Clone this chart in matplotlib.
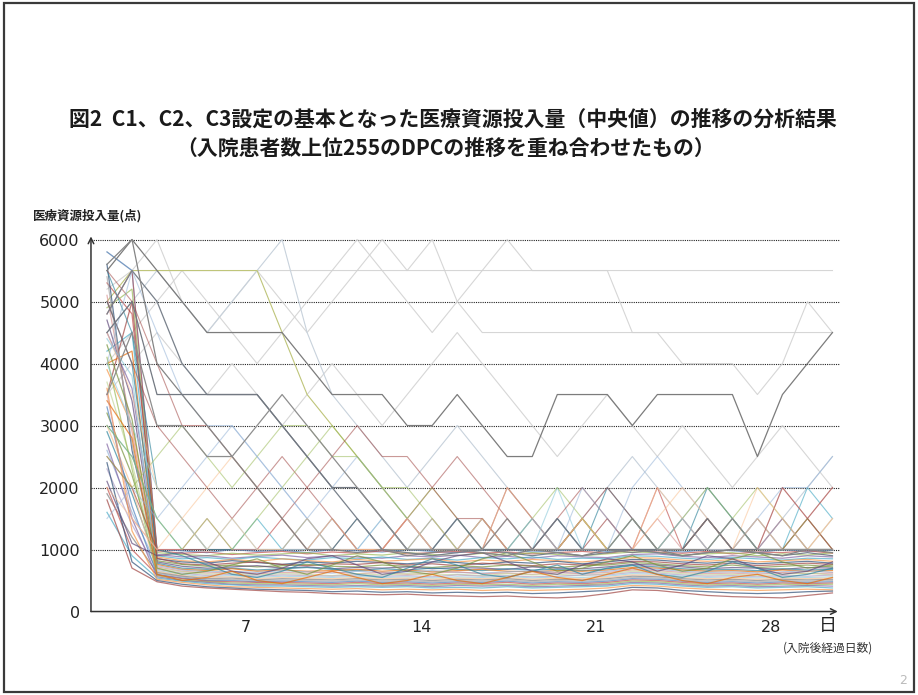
"""Fig.2 - overlay of median resource-use trajectories for the top 255 DPC."""
import matplotlib
matplotlib.use("Agg")
import matplotlib.pyplot as plt
from matplotlib.patches import Rectangle

CJK = ["Noto Sans CJK JP", "DejaVu Sans"]

# ── data (points per day, day 1..30) ───────────────────────────────────────
days = list(range(1, 31))
y_ticks = [0, 1000, 2000, 3000, 4000, 5000, 6000]
x_tick_days = [7, 14, 21, 28]

band_lines = [
    [5800, 5500, 1000, 980, 950, 1000, 970, 990, 950, 1000, 980, 960, 1000, 970, 950, 990, 1000, 960, 980, 1000, 970, 1000, 990, 960, 1000, 980, 950, 1000, 970, 990],
    [5300, 4800, 980, 940, 960, 920, 950, 970, 930, 960, 940, 980, 930, 950, 970, 940, 960, 930, 950, 970, 940, 990, 960, 940, 970, 930, 960, 950, 980, 940],
    [4900, 5200, 950, 920, 900, 940, 910, 930, 950, 900, 930, 910, 950, 920, 900, 940, 910, 950, 920, 900, 930, 960, 950, 910, 930, 950, 900, 930, 910, 950],
    [4500, 3600, 920, 880, 900, 860, 890, 910, 870, 900, 880, 860, 900, 880, 910, 870, 890, 860, 900, 880, 870, 920, 930, 890, 870, 900, 880, 860, 900, 880],
    [4200, 4500, 900, 850, 870, 840, 880, 850, 830, 870, 850, 880, 840, 860, 830, 870, 850, 880, 840, 860, 850, 900, 890, 860, 840, 870, 850, 830, 860, 850],
    [3900, 3000, 880, 820, 800, 840, 810, 850, 820, 800, 840, 810, 830, 850, 800, 830, 810, 840, 820, 800, 830, 870, 860, 830, 810, 840, 800, 820, 840, 810],
    [5600, 2600, 850, 800, 780, 820, 790, 760, 800, 780, 810, 790, 770, 800, 790, 760, 800, 780, 810, 770, 800, 840, 830, 800, 780, 810, 770, 790, 810, 780],
    [3500, 5000, 860, 770, 750, 780, 800, 760, 740, 770, 760, 790, 750, 770, 740, 780, 760, 740, 770, 750, 770, 810, 800, 770, 750, 780, 740, 760, 780, 760],
    [3200, 2200, 820, 760, 730, 750, 720, 740, 760, 730, 720, 750, 730, 710, 740, 720, 750, 730, 710, 740, 750, 790, 770, 740, 720, 750, 710, 730, 750, 720],
    [4700, 3400, 800, 730, 700, 720, 740, 700, 720, 690, 710, 700, 720, 690, 710, 700, 680, 720, 700, 690, 720, 760, 750, 720, 690, 710, 700, 680, 710, 700],
    [2900, 1900, 780, 700, 680, 700, 670, 690, 710, 680, 660, 690, 670, 700, 680, 660, 690, 670, 680, 660, 690, 740, 720, 690, 670, 680, 660, 690, 670, 680],
    [4000, 4200, 760, 680, 660, 690, 650, 670, 650, 660, 680, 650, 670, 640, 660, 680, 650, 640, 660, 650, 670, 710, 700, 670, 650, 660, 640, 670, 650, 660],
    [2600, 1600, 740, 670, 640, 650, 630, 660, 640, 620, 650, 630, 640, 660, 630, 620, 640, 660, 630, 620, 650, 690, 680, 650, 630, 640, 620, 640, 660, 630],
    [5100, 2900, 720, 650, 620, 640, 610, 630, 620, 640, 610, 630, 600, 620, 640, 610, 620, 600, 630, 610, 630, 670, 660, 630, 610, 620, 600, 630, 610, 620],
    [3700, 2400, 700, 640, 600, 620, 590, 610, 600, 580, 610, 590, 610, 590, 600, 580, 610, 590, 600, 580, 610, 650, 640, 610, 590, 600, 580, 600, 620, 590],
    [2300, 1400, 680, 620, 580, 600, 570, 590, 580, 570, 590, 570, 580, 560, 590, 570, 580, 560, 570, 590, 590, 630, 620, 590, 570, 580, 560, 580, 570, 590],
    [4400, 3800, 660, 600, 560, 580, 550, 570, 560, 550, 570, 550, 560, 540, 560, 550, 570, 540, 560, 550, 570, 610, 600, 570, 550, 560, 540, 560, 550, 560],
    [3000, 2000, 650, 580, 550, 560, 530, 550, 540, 530, 550, 530, 540, 520, 540, 530, 550, 520, 540, 530, 550, 590, 580, 550, 530, 540, 520, 540, 530, 540],
    [1900, 1200, 630, 570, 530, 540, 510, 530, 520, 510, 530, 510, 520, 500, 520, 510, 530, 500, 520, 510, 530, 570, 560, 530, 510, 520, 500, 520, 510, 520],
    [5400, 2700, 620, 560, 510, 520, 500, 510, 500, 490, 510, 490, 500, 480, 500, 490, 510, 480, 500, 490, 510, 550, 540, 510, 490, 500, 480, 500, 490, 500],
    [3300, 1700, 600, 540, 500, 500, 480, 490, 480, 470, 490, 470, 480, 460, 480, 470, 490, 460, 480, 470, 490, 530, 520, 490, 470, 480, 460, 480, 470, 480],
    [2000, 1000, 590, 530, 490, 480, 470, 470, 460, 450, 470, 450, 460, 440, 460, 450, 470, 440, 460, 450, 470, 510, 500, 470, 450, 460, 440, 460, 450, 460],
    [4100, 2300, 580, 510, 480, 460, 450, 450, 440, 430, 450, 430, 440, 420, 440, 430, 440, 420, 440, 430, 450, 490, 480, 450, 430, 440, 420, 440, 430, 440],
    [2700, 1500, 560, 500, 470, 440, 430, 430, 420, 410, 420, 410, 420, 400, 420, 410, 420, 400, 410, 420, 430, 470, 460, 430, 410, 420, 400, 410, 420, 410],
    [1600, 900, 540, 490, 450, 430, 410, 410, 400, 390, 400, 390, 400, 380, 390, 380, 400, 380, 390, 400, 410, 450, 440, 410, 390, 400, 380, 390, 400, 380],
    [3600, 1300, 520, 470, 430, 400, 390, 380, 370, 360, 370, 350, 360, 350, 360, 340, 350, 340, 350, 360, 380, 420, 410, 380, 360, 350, 340, 350, 360, 350],
    [2400, 800, 500, 440, 400, 380, 360, 350, 340, 320, 330, 310, 320, 300, 310, 300, 310, 290, 300, 320, 340, 390, 380, 340, 320, 300, 290, 300, 320, 330],
    [1800, 700, 480, 410, 380, 360, 340, 320, 310, 290, 280, 270, 280, 260, 250, 240, 250, 230, 220, 240, 290, 350, 340, 300, 260, 240, 230, 220, 260, 300],
    [4300, 3100, 700, 600, 650, 750, 850, 700, 600, 750, 900, 800, 650, 600, 700, 850, 950, 800, 650, 700, 800, 900, 750, 650, 700, 850, 950, 800, 700, 750],
    [2100, 1100, 900, 950, 800, 650, 600, 700, 850, 900, 750, 600, 650, 800, 900, 950, 800, 650, 600, 750, 850, 800, 650, 750, 900, 850, 700, 600, 650, 800],
    [5000, 4000, 1000, 900, 750, 600, 550, 650, 800, 700, 600, 550, 700, 850, 750, 600, 550, 650, 750, 600, 700, 750, 600, 550, 650, 800, 700, 550, 600, 700],
    [3400, 2800, 600, 500, 550, 650, 500, 450, 550, 650, 550, 450, 500, 600, 500, 450, 550, 650, 550, 500, 600, 700, 600, 500, 450, 550, 600, 500, 450, 550],
]

spike_lines = [
    [4800, 5500, 1000, 1000, 1000, 1000, 1000, 1500, 1000, 1000, 1000, 1000, 1500, 1000, 1000, 1500, 1000, 1000, 1000, 1500, 1000, 1000, 2000, 1000, 1500, 1000, 1000, 1500, 1000, 1000],
    [3000, 2500, 1500, 1000, 1000, 1000, 1500, 1000, 1000, 1500, 1000, 1000, 1000, 1000, 1500, 1000, 1000, 1500, 1000, 1000, 1000, 1500, 1000, 1000, 1000, 1500, 1000, 1000, 2000, 1500],
    [2500, 2000, 1000, 1000, 1000, 1000, 1000, 1000, 1000, 1000, 1500, 1000, 1000, 1000, 1000, 1000, 2000, 1500, 1000, 1000, 1500, 1000, 1000, 1500, 1000, 1000, 1500, 1000, 1500, 1000],
    [5500, 4500, 2000, 1500, 1000, 1000, 1000, 1000, 1500, 1000, 1500, 1000, 1000, 1500, 1000, 1000, 1000, 1000, 1500, 1000, 2000, 1500, 1000, 1000, 2000, 1500, 1000, 1000, 1000, 1000],
    [3500, 1500, 1000, 1000, 1500, 1000, 1000, 1000, 1000, 1500, 1000, 1000, 1500, 1000, 1000, 1000, 1500, 1000, 1000, 1500, 1000, 1000, 1500, 1000, 1000, 1000, 1000, 2000, 1500, 2000],
    [4000, 3000, 2000, 1500, 1000, 1500, 1000, 1000, 1000, 1000, 1000, 1500, 1000, 1000, 1000, 1500, 1000, 1000, 2000, 1000, 1000, 1000, 1000, 1500, 1000, 1000, 1500, 1000, 1000, 1500],
]

mid_lines = [
    [2500, 2000, 2500, 3000, 2500, 2000, 2500, 3000, 3000, 2500, 2500, 2000, 2000, 1500, 1000, 1000, 1000, 1500, 2000, 1500, 1000, 1000, 1000, 1000, 1000, 1500, 2000, 1500, 1000, 1000],
    [5000, 4000, 3000, 2500, 2000, 1500, 2000, 2500, 2000, 1500, 1000, 1000, 1500, 2000, 2500, 2000, 1500, 1000, 1000, 1500, 2000, 1500, 1000, 1000, 1500, 1000, 1000, 1000, 1500, 2000],
    [1500, 2000, 1500, 2000, 2500, 3000, 2500, 2000, 1500, 2000, 2500, 2000, 1500, 1000, 1500, 1000, 1000, 1000, 1500, 1000, 1000, 2000, 2500, 2000, 1500, 1000, 1500, 2000, 2000, 2500],
    [4500, 3500, 2000, 1500, 2000, 2500, 2000, 1500, 1000, 1500, 1000, 1000, 1000, 1500, 1000, 1000, 2000, 1500, 1000, 1000, 1000, 1000, 2000, 1500, 1000, 1000, 1500, 1000, 1000, 1500],
    [3000, 2500, 1500, 1000, 1500, 1000, 1500, 2000, 2500, 3000, 2500, 2000, 1500, 2000, 1500, 1000, 1000, 1000, 1000, 1500, 1000, 1500, 1000, 1500, 2000, 1500, 1000, 1000, 1500, 1000],
    [5500, 5000, 4000, 3000, 3000, 2500, 2000, 1500, 2000, 2500, 3000, 2500, 2500, 2000, 1500, 1500, 1000, 1000, 1500, 2000, 1500, 1000, 1000, 1000, 1500, 1000, 1000, 2000, 1500, 1000],
    [4000, 5500, 4500, 3500, 3000, 3000, 2500, 2000, 1500, 1000, 1000, 1500, 1000, 1000, 1000, 1000, 1000, 1500, 1000, 2000, 1500, 1000, 1000, 1500, 1000, 1000, 1000, 1500, 1000, 1000],
    [2000, 1500, 1000, 1500, 1000, 1500, 1000, 1000, 1500, 1000, 1000, 1000, 1500, 1000, 1000, 1500, 1000, 1000, 1000, 1500, 1000, 1000, 1500, 2000, 1500, 1000, 2000, 1500, 1000, 1500],
]

# faint high trajectories
faint_5500 = [5800, 5500, 5500, 5500, 5500, 5500, 5500, 5500, 5500, 5500, 5500, 5500, 5500, 5500, 5500, 5500, 5500, 5500, 5500, 5500, 5500, 5500, 5500, 5500, 5500, 5500, 5500, 5500, 5500, 5500]
faint_4500 = [5200, 5500, 6000, 5000, 4500, 5000, 5500, 5000, 4500, 5000, 5500, 6000, 5500, 6000, 5000, 4500, 4500, 4500, 4500, 4500, 4500, 4500, 4500, 4500, 4500, 4500, 4500, 4500, 4500, 4500]
faint_right = [4000, 4500, 5000, 5500, 5000, 4500, 4000, 4500, 5000, 5500, 6000, 5500, 5000, 4500, 5000, 5500, 6000, 5500, 5500, 5500, 5500, 4500, 4500, 4000, 4000, 4000, 3500, 4000, 5000, 4500]
faint_peak8 = [4500, 5000, 5500, 5000, 4500, 5000, 5500, 6000, 4500, 3500, 3000, 2500, 2000, 2500, 3000, 2500, 2000, 1500, 1000, 1500, 2000, 2500, 2000, 1500, 2000, 1500, 1000, 1500, 2000, 2500]
faint_mid = [3500, 4000, 4500, 4000, 3500, 4000, 3500, 3000, 3500, 4000, 3500, 3000, 3500, 4000, 4500, 4000, 3500, 3000, 2500, 3000, 3500, 3000, 2500, 3000, 2500, 2000, 2500, 3000, 2500, 2000]
olive_line = [5000, 5500, 5500, 5500, 5500, 5500, 5500, 4500, 3500, 3000, 2500, 2000, 1500, 1000, 1000, 1500, 1000, 1000, 1000, 1500, 1000, 1000, 1000, 1000, 1500, 1000, 1000, 1000, 1000, 1000]

# darker trajectories
zigzag_line = [5500, 6000, 5500, 5000, 4500, 4500, 4500, 4500, 4000, 3500, 3500, 3500, 3000, 3000, 3500, 3000, 2500, 2500, 3500, 3500, 3500, 3000, 3500, 3500, 3500, 3500, 2500, 3500, 4000, 4500]
dark_a = [4800, 5500, 5000, 4000, 3500, 3500, 3500, 3000, 2500, 2000, 1500, 1000, 950, 900, 950, 1000, 950, 900, 950, 900, 950, 1000, 950, 900, 950, 1000, 950, 900, 950, 900]
dark_b = [5600, 6000, 4000, 3500, 3000, 2500, 2000, 1500, 1000, 1000, 950, 1000, 900, 950, 1000, 950, 900, 1000, 950, 900, 1000, 950, 1000, 900, 950, 1000, 950, 900, 1000, 950]
dark_c = [4500, 5000, 3500, 3500, 3500, 3500, 3500, 3000, 2500, 2000, 2000, 1500, 1000, 1000, 1500, 1000, 1000, 1000, 1500, 1000, 1000, 1000, 1000, 1000, 1500, 1000, 1000, 1000, 1000, 1000]
dark_d = [3500, 4500, 3000, 3000, 2500, 2500, 3000, 3500, 3000, 2500, 2000, 1500, 1000, 1000, 1000, 1000, 1500, 1000, 1000, 1000, 1000, 1500, 1000, 1000, 1000, 1500, 1000, 1000, 1000, 1000]

palette = ["#4f81bd", "#c0504d", "#9bbb59", "#8064a2", "#4bacc6", "#f79646",
           "#2c4d75", "#a04542", "#77933c", "#604a7b", "#31859c", "#e46c0a",
           "#95b3d7", "#d99694", "#c3d69b", "#b3a2c7", "#93cddd", "#fac090",
           "#7f7f7f", "#a6a6a6"]

# ── figure ─────────────────────────────────────────────────────────────────
fig = plt.figure(figsize=(9.18, 6.95), dpi=100)
fig.patch.set_facecolor("white")
fig.patches.append(Rectangle((0.004, 0.004), 0.992, 0.992, transform=fig.transFigure,
                             fill=False, lw=1.6, ec="#3a3a3a"))

ax = fig.add_axes([0.0991, 0.1201, 0.8159, 0.5397])
for y in y_ticks[1:]:
    ax.axhline(y, color="#222222", lw=0.8, ls=(0, (1, 1)), zorder=1)

for y in (faint_5500, faint_4500, faint_right, faint_mid):
    ax.plot(days, y, color="#d2d2d2", lw=0.8, alpha=0.9, zorder=2)
ax.plot(days, faint_peak8, color="#c8d2dc", lw=0.8, zorder=2)
ax.plot(days, olive_line, color="#bfc57a", lw=0.8, zorder=2)

for i, y in enumerate(band_lines):
    ax.plot(days, y, color=palette[i % len(palette)], lw=0.9, alpha=0.7, zorder=3)
for i, y in enumerate(spike_lines):
    ax.plot(days, y, color=palette[(i * 3 + 1) % len(palette)], lw=0.8, alpha=0.65, zorder=3)
for i, y in enumerate(mid_lines):
    ax.plot(days, y, color=palette[(i * 5 + 2) % len(palette)], lw=0.8, alpha=0.55, zorder=3)

ax.plot(days, zigzag_line, color="#7c7c7c", lw=0.9, zorder=4)
ax.plot(days, dark_a, color="#7a828c", lw=0.9, zorder=4)
ax.plot(days, dark_b, color="#858585", lw=0.9, zorder=4)
ax.plot(days, dark_c, color="#737982", lw=0.9, zorder=4)
ax.plot(days, dark_d, color="#8e8e8e", lw=0.9, zorder=4)

ax.set_xlim(0.36, 30.3)
ax.set_ylim(0, 6050)
for s in ax.spines.values():
    s.set_visible(False)
ax.annotate("", xy=(0, 1), xytext=(0, 0), xycoords="axes fraction",
            arrowprops=dict(arrowstyle="->", lw=1.1, color="#333333", shrinkA=0, shrinkB=0))
ax.annotate("", xy=(0.997, 0), xytext=(0, 0), xycoords="axes fraction",
            arrowprops=dict(arrowstyle="->", lw=1.1, color="#333333", shrinkA=0, shrinkB=0))

ax.set_yticks(y_ticks, labels=[str(v) for v in y_ticks])
ax.set_xticks([d - 0.45 for d in x_tick_days], labels=[str(d) for d in x_tick_days])
ax.tick_params(axis="both", length=0, labelsize=11.5, labelcolor="#222222")
ax.tick_params(axis="y", pad=8)
ax.tick_params(axis="x", pad=6)
ax.get_yticklabels()[0].set_y(-140)

# ── text ───────────────────────────────────────────────────────────────────
fig.text(0.493, 1 - 119 / 695, "図2  C1、C2、C3設定の基本となった医療資源投入量（中央値）の推移の分析結果",
         ha="center", va="center", fontsize=15, fontweight="bold", family=CJK, color="#1a1a1a")
fig.text(0.485, 1 - 148 / 695, "（入院患者数上位255のDPCの推移を重ね合わせたもの）",
         ha="center", va="center", fontsize=15, fontweight="bold", family=CJK, color="#1a1a1a")
fig.text(88 / 918, 1 - 216 / 695, "医療資源投入量(点)", ha="center", va="center",
         fontsize=9, fontweight="bold", family=CJK, color="#222222")
fig.text(828 / 918, 1 - 626 / 695, "日", ha="center", va="center", fontsize=13,
         family=CJK, color="#222222")
fig.text(828 / 918, 1 - 648 / 695, "(入院後経過日数)", ha="center", va="center", fontsize=8.5,
         family=CJK, color="#333333")
fig.text(903 / 918, 1 - 681 / 695, "2", ha="center", va="center", fontsize=9, color="#bbbbbb")

fig.savefig("out.png", dpi=100)
